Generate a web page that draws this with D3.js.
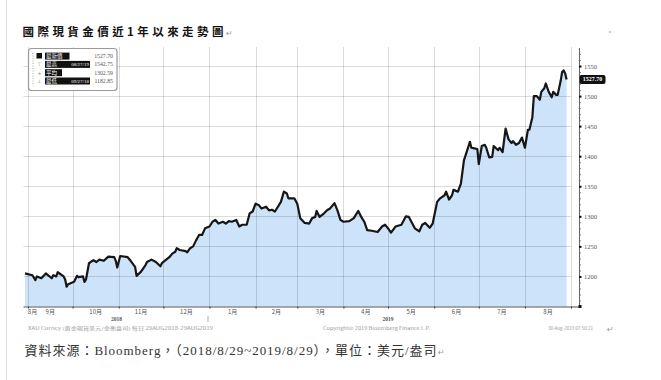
<!DOCTYPE html>
<html><head><meta charset="utf-8">
<script src="https://cdn.jsdelivr.net/npm/d3@7"></script>
<style>html,body{margin:0;padding:0;background:#fff;} svg{display:block}</style>
</head><body>
<svg id="c" width="661" height="380"></svg>
<script>
const titleText = "國際現貨金價近1年以來走勢圖";
const sourceText = "資料來源：Bloomberg，（2018/8/29~2019/8/29），單位：美元/盎司";
const dates = [
"2018-08-30","2018-09-04","2018-09-06","2018-09-07","2018-09-10","2018-09-13","2018-09-17","2018-09-18","2018-09-20","2018-09-21",
"2018-09-25","2018-09-26","2018-09-27","2018-09-28","2018-10-02","2018-10-04","2018-10-05","2018-10-08","2018-10-09","2018-10-10",
"2018-10-12","2018-10-15","2018-10-17","2018-10-19","2018-10-22","2018-10-25","2018-10-29","2018-10-30","2018-10-31","2018-11-02",
"2018-11-07","2018-11-09","2018-11-12","2018-11-13","2018-11-16","2018-11-19","2018-11-20","2018-11-23","2018-11-26","2018-11-29",
"2018-11-30","2018-12-05","2018-12-07","2018-12-09","2018-12-10","2018-12-12","2018-12-16","2018-12-17","2018-12-19","2018-12-21",
"2018-12-23","2018-12-25","2018-12-27","2018-12-29","2019-01-01","2019-01-03","2019-01-05","2019-01-07","2019-01-10","2019-01-12",
"2019-01-14","2019-01-16","2019-01-19","2019-01-21","2019-01-23","2019-01-26","2019-01-28","2019-01-30","2019-02-01","2019-02-03",
"2019-02-05","2019-02-08","2019-02-10","2019-02-12","2019-02-14","2019-02-18","2019-02-20","2019-02-22","2019-02-23","2019-02-27",
"2019-03-01","2019-03-03","2019-03-06","2019-03-09","2019-03-11","2019-03-13","2019-03-14","2019-03-16","2019-03-19","2019-03-21",
"2019-03-23","2019-03-26","2019-03-28","2019-03-30","2019-04-01","2019-04-05","2019-04-08","2019-04-11","2019-04-13","2019-04-15",
"2019-04-17","2019-04-20","2019-04-24","2019-04-27","2019-04-29","2019-05-01","2019-05-03","2019-05-06","2019-05-10","2019-05-13",
"2019-05-15","2019-05-19","2019-05-22","2019-05-24","2019-05-26","2019-05-29","2019-05-31","2019-06-01","2019-06-03","2019-06-05",
"2019-06-08","2019-06-09","2019-06-11","2019-06-13","2019-06-14","2019-06-17","2019-06-19","2019-06-21","2019-06-24","2019-06-25",
"2019-06-26","2019-06-28","2019-06-30","2019-07-01","2019-07-03","2019-07-05","2019-07-06","2019-07-08","2019-07-10","2019-07-11",
"2019-07-14","2019-07-15","2019-07-17","2019-07-19","2019-07-21","2019-07-23","2019-07-24","2019-07-26","2019-07-28","2019-07-30",
"2019-08-01","2019-08-03","2019-08-04","2019-08-06","2019-08-07","2019-08-09","2019-08-11","2019-08-12","2019-08-14","2019-08-15",
"2019-08-17","2019-08-19","2019-08-20","2019-08-22","2019-08-23","2019-08-25","2019-08-26","2019-08-27","2019-08-28","2019-08-29"
];
const prices = [
1205,1202,1194,1200,1197,1205,1197,1202,1200,1207,
1200,1195,1182.85,1187,1191,1201,1199,1200,1191,1195,
1222,1227,1224,1228,1226,1233,1232,1226,1215,1234,
1232,1226,1216,1201,1208,1219,1224,1228,1224,1217,
1222,1232,1238,1241,1247,1244,1242,1240,1247,1250,
1260,1269,1269,1280,1283,1291,1294,1288,1291,1288,
1292,1291,1294,1283,1286,1286,1305,1308,1321,1319,
1313,1316,1310,1311,1308,1324,1341,1338,1330,1330,
1321,1297,1289,1288,1297,1299,1309,1299,1305,1310,
1313,1322,1310,1294,1291,1292,1297,1309,1299,1291,
1277,1276,1274,1283,1286,1280,1273,1283,1286,1300,
1299,1280,1275,1286,1289,1281,1288,1300,1324,1330,
1335,1341,1328,1335,1344,1341,1355,1393,1416,1424,
1414,1413,1412,1387,1417,1419,1414,1398,1399,1417,
1410,1414,1407,1446,1428,1422,1425,1419,1422,1431,
1414,1444,1444,1465,1500,1500,1494,1507,1513,1521,
1507,1498,1507,1502,1502,1525,1540,1542.75,1538,1527.70
];
const yTicks = [1200,1250,1300,1350,1400,1450,1500,1550];
const monthLabels = ["8月","9月","10月","11月","12月","1月","2月","3月","4月","5月","6月","7月","8月"];
const yearLabels = ["2018","2019"];
const legendNames = ["最新價","最高","平均","最低"];
const legendDates = ["","08/27/19","","09/27/18"];
const legendValues = ["1527.70","1542.75","1302.59","1182.85"];
const lastPriceLabel = "1527.70";
const footerTexts = ["XAU Curncy (黃金現貨美元/金衡盎司) 每日 29AUG2018-29AUG2019","Copyright© 2019 Bloomberg Finance L.P.","30-Aug-2019 07:50:21"];

const svg = d3.select("#c");
const parse = d3.timeParse("%Y-%m-%d");
const data = dates.map((d,i)=>({date:parse(d), v:prices[i]}));
const x0 = parse("2018-08-29"), x1 = parse("2019-09-06");
const x = d3.scaleTime().domain([x0, x1]).range([23.5, 578.5]);
const y = d3.scaleLinear().domain([1150,1580]).range([306.5,48]);
const plotLeft = 23.5;
const monthStarts = d3.timeMonth.range(parse("2018-09-01"), parse("2019-09-02"));
const plotRight = x(parse("2019-09-01"));
const axisX = 579;
const cjk = "'Noto Sans CJK TC','Noto Sans CJK SC',sans-serif";
const serif = "'Liberation Serif','DejaVu Serif',serif";

svg.append("rect").attr("width",661).attr("height",380).attr("fill","#fff");
// page edge line
svg.append("line").attr("x1",6.5).attr("x2",6.5).attr("y1",0).attr("y2",380).attr("stroke","#e2e2e2");

// title
svg.append("text").attr("x",22.5).attr("y",36).text(titleText)
  .attr("font-family",cjk).attr("font-weight","bold").attr("font-size",11.5)
  .attr("textLength",201).attr("lengthAdjust","spacing").attr("fill","#111");
svg.append("text").attr("x",226).attr("y",36).text("↵").attr("font-family","DejaVu Sans").attr("font-size",8).attr("fill","#999");
svg.append("rect").attr("x",609).attr("y",31).attr("width",2).attr("height",2).attr("fill","#c8c8c8");

// area
svg.append("path").datum(data)
  .attr("d", d3.area().x(d=>x(d.date)).y0(y(1150)).y1(d=>y(d.v)))
  .attr("fill","#cde3f9");

// grid
const grid = svg.append("g").attr("stroke","#000").attr("stroke-opacity",0.14).attr("stroke-width",1);
grid.selectAll("line.h").data(yTicks).join("line")
  .attr("x1",plotLeft).attr("x2",plotRight).attr("y1",d=>Math.round(y(d))+0.5).attr("y2",d=>Math.round(y(d))+0.5);
grid.selectAll("line.v").data(monthStarts).join("line")
  .attr("x1",d=>Math.round(x(d))+0.5).attr("x2",d=>Math.round(x(d))+0.5).attr("y1",47).attr("y2",306);

// line
svg.append("path").datum(data)
  .attr("d", d3.line().x(d=>x(d.date)).y(d=>y(d.v)))
  .attr("fill","none").attr("stroke","#161616").attr("stroke-width",2.2).attr("stroke-linejoin","round");

// right axis
const minor = d3.range(1160,1580,10).filter(v=>v%50!==0);
const gMinor = svg.append("g").attr("transform",`translate(${axisX},0)`)
  .call(d3.axisRight(y).tickValues(minor).tickSize(1.8).tickFormat(""));
gMinor.select(".domain").remove();
gMinor.selectAll(".tick line").attr("stroke","#666");
const gY = svg.append("g").attr("transform",`translate(${axisX},0)`)
  .call(d3.axisRight(y).tickValues(yTicks).tickSize(2.5).tickPadding(2.5).tickSizeOuter(0).tickFormat(d3.format("d")));
gY.select(".domain").attr("stroke","#666").attr("d",`M0.5,${y(1580)}V${y(1150)}`);
gY.selectAll(".tick line").attr("stroke","#111").attr("stroke-width",2);
gY.selectAll(".tick text").attr("font-family",serif).attr("font-size",6.5).attr("fill","#555");

// last price tag
const ly = y(prices[prices.length-1]);
svg.append("rect").attr("x",axisX+0.5).attr("y",ly-4.5).attr("width",26).attr("height",9).attr("rx",2).attr("fill","#111");
svg.append("text").attr("x",axisX+13.5).attr("y",ly+2).attr("text-anchor","middle").text(lastPriceLabel)
  .attr("font-family",serif).attr("font-size",6).attr("font-weight","bold").attr("fill","#fff");

// bottom axis
const gX = svg.append("g").attr("transform","translate(0,306.5)")
  .call(d3.axisBottom(x).tickValues(monthStarts).tickSize(2).tickFormat("").tickSizeOuter(0));
gX.select(".domain").attr("stroke","#555").attr("stroke-width",1.2).attr("d",`M${plotLeft},0.5H${axisX+1}`);
gX.selectAll(".tick line").attr("stroke","#333");
svg.append("rect").attr("x",axisX-0.5).attr("y",305).attr("width",3).attr("height",3).attr("fill","#111");

const bounds = [x0].concat(monthStarts);
const mlab = svg.append("g").attr("font-family",cjk).attr("font-size",6).attr("fill","#555").attr("text-anchor","middle");
monthLabels.forEach((m,i)=>{
  let cx = (x(bounds[i])+x(bounds[i+1]))/2;
  if(i===0) cx = Math.max(cx, x(x0)+9);
  mlab.append("text").attr("x",cx).attr("y",314).text(m);
});
const yearBounds = [[x0, parse("2019-01-01")],[parse("2019-01-01"), parse("2019-08-29")]];
yearLabels.forEach((t,i)=>{
  svg.append("text").attr("x",(x(yearBounds[i][0])+x(yearBounds[i][1]))/2).attr("y",321).attr("text-anchor","middle")
    .text(t).attr("font-family",serif).attr("font-size",5.5).attr("font-weight","bold").attr("fill","#555");
});
svg.append("line").attr("x1",x(parse("2019-01-01"))-1.5).attr("x2",x(parse("2019-01-01"))-1.5).attr("y1",316).attr("y2",322).attr("stroke","#888").attr("stroke-width",0.7);

// footer
const fpos = [[28,185],[323,107],[548,45]];
footerTexts.forEach((t,i)=>{
  svg.append("text").attr("x",fpos[i][0]).attr("y",329.5).text(t)
    .attr("font-family",cjk).attr("font-size",4.3).attr("fill","#999")
    .attr("textLength",fpos[i][1]).attr("lengthAdjust","spacingAndGlyphs");
});
svg.append("text").attr("x",607).attr("y",332).text("↵").attr("font-family","DejaVu Sans").attr("font-size",8).attr("fill","#999");

// source line
svg.append("text").attr("x",24.5).attr("y",355).text(sourceText)
  .attr("font-family","'Liberation Serif','Noto Sans CJK TC',serif").attr("font-size",13).attr("fill","#333")
  .attr("textLength",412).attr("lengthAdjust","spacing");
svg.append("text").attr("x",438).attr("y",355).text("↵").attr("font-family","DejaVu Sans").attr("font-size",8).attr("fill","#999");

// legend
const lg = svg.append("g");
lg.append("rect").attr("x",28.5).attr("y",48.5).attr("width",88.5).attr("height",42).attr("rx",3)
  .attr("fill","#fff").attr("stroke","#9a9a9a").attr("stroke-width",1.2);
lg.append("line").attr("x1",33).attr("x2",33).attr("y1",53).attr("y2",86).attr("stroke","#aaa").attr("stroke-dasharray","1,1.5");
const rowY = [56, 64.3, 72.6, 80.9];
const icons = ["","⊤","+","⊥"];
legendNames.forEach((n,i)=>{
  const ry = rowY[i];
  if(i===0) lg.append("rect").attr("x",36.5).attr("y",ry-3).attr("width",5.5).attr("height",5.5).attr("fill","#111");
  else lg.append("text").attr("x",39.5).attr("y",ry+2).attr("text-anchor","middle").text(icons[i])
        .attr("font-family","DejaVu Sans").attr("font-size",5).attr("fill","#888");
  const w = legendDates[i] ? 45 : (i===0 ? 24.5 : 17);
  lg.append("rect").attr("x",45).attr("y",ry-3.4).attr("width",w).attr("height",7).attr("fill","#111");
  lg.append("text").attr("x",46).attr("y",ry+2).text(n).attr("font-family",cjk).attr("font-size",5.5).attr("fill","#fff");
  if(legendDates[i]) lg.append("text").attr("x",89).attr("y",ry+2).attr("text-anchor","end").text(legendDates[i])
        .attr("font-family",serif).attr("font-size",5).attr("fill","#fff");
  lg.append("text").attr("x",113).attr("y",ry+2).attr("text-anchor","end").text(legendValues[i])
    .attr("font-family",serif).attr("font-size",5.8).attr("fill","#555");
});
</script>
</body></html>
